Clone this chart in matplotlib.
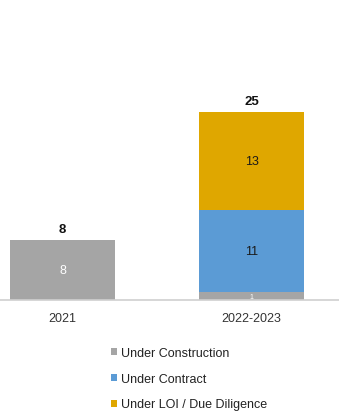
import numpy as np
import matplotlib
matplotlib.use('Agg')
from matplotlib import pyplot as plt

plt.rcParams['font.family'] = ['Liberation Sans', 'DejaVu Sans']

periods = ['2021', '2022-2023']
construction = [8, 1]
contract = [0, 11]
loi = [0, 13]
totals = [8, 25]

series_names = ['Under Construction', 'Under Contract', 'Under LOI / Due Diligence']
colors = ['#A5A5A5', '#5B9BD5', '#DFA700']
label_colors = ['white', '#1a1a1a', '#1a1a1a']

fig = plt.figure(figsize=(3.39, 4.14), dpi=100)
ax = fig.add_axes([0, 113/414, 1, 301/414])

x = np.arange(len(periods))
bottom = np.zeros(len(periods))
for vals, c, lc, name in zip([construction, contract, loi], colors, label_colors, series_names):
    vals = np.array(vals, dtype=float)
    ax.bar(x, vals, 0.556, bottom=bottom, color=c, label=name)
    for xi, v, b in zip(x, vals, bottom):
        if v > 0:
            ax.text(xi, b + v/2, str(int(v)), ha='center', va='center',
                    fontsize=9 if v > 1 else 5, color=lc)
    bottom += vals

for xi, t in zip(x, totals):
    ax.text(xi, t + 0.7, str(t), ha='center', va='bottom', fontsize=9.5,
            fontweight='bold', color='#111111')

ax.set_xlim(-0.331, 1.463)
ax.set_ylim(0, 40.03)
ax.set_yticks([])
ax.set_xticks(x)
ax.set_xticklabels(periods, fontsize=9, color='#333333')
ax.tick_params(axis='x', length=0, pad=9)
for s in ['top', 'left', 'right']:
    ax.spines[s].set_visible(False)
ax.spines['bottom'].set_color('#D0D0D0')
ax.spines['bottom'].set_linewidth(1.2)

leg = fig.legend(loc='upper left', bbox_to_anchor=(106/339, 1 - 343/414),
                 frameon=False, fontsize=9, handlelength=0.5, handleheight=0.5,
                 handletextpad=0.3, labelspacing=1.1, borderaxespad=0)
for t in leg.get_texts():
    t.set_color('#222222')

fig.savefig('out.png', dpi=100)
